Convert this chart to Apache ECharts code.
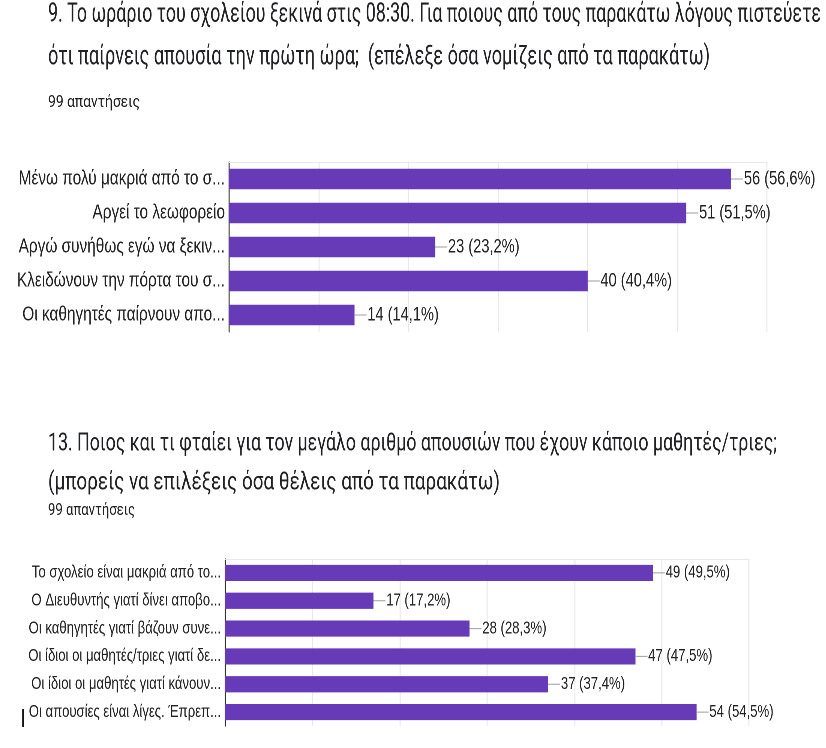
<!DOCTYPE html>
<html>
<head>
<meta charset="utf-8">
<script src="https://cdn.jsdelivr.net/npm/echarts@6/dist/echarts.min.js"></script>
<style>
html,body{margin:0;padding:0;background:#fff;overflow:hidden;width:826px;height:748px;}
#wrap{width:826px;height:748px;overflow:hidden;position:relative;}
#chart{width:1102px;height:748px;transform:scaleX(0.75);transform-origin:0 0;position:absolute;left:0;top:0;}
</style>
</head>
<body>
<div id="wrap"><div id="chart"></div></div>
<script>
// ---- Data ----
const title1Lines = [
  '9. Το ωράριο του σχολείου ξεκινά στις 08:30. Για ποιους από τους παρακάτω λόγους πιστεύετε',
  'ότι παίρνεις απουσία την πρώτη ώρα;  (επέλεξε όσα νομίζεις από τα παρακάτω)'
];
const subtitle1 = '99 απαντήσεις';
const categories1 = [
  'Μένω πολύ μακριά από το σ...',
  'Αργεί το λεωφορείο',
  'Αργώ συνήθως εγώ να ξεκιν...',
  'Κλειδώνουν την πόρτα του σ...',
  'Οι καθηγητές παίρνουν απο...'
];
const values1 = [56, 51, 23, 40, 14];
const percents1 = ['56,6%', '51,5%', '23,2%', '40,4%', '14,1%'];

const title2Lines = [
  '13. Ποιος και τι φταίει για τον μεγάλο αριθμό απουσιών που έχουν κάποιο μαθητές/τριες;',
  '(μπορείς να επιλέξεις όσα θέλεις από τα παρακάτω)'
];
const subtitle2 = '99 απαντήσεις';
const categories2 = [
  'Το σχολείο είναι μακριά από το...',
  'Ο Διευθυντής γιατί δίνει αποβο...',
  'Οι καθηγητές γιατί βάζουν συνε...',
  'Οι ίδιοι οι μαθητές/τριες γιατί δε...',
  'Οι ίδιοι οι μαθητές γιατί κάνουν...',
  'Οι απουσίες είναι λίγες. Έπρεπ...'
];
const values2 = [49, 17, 28, 47, 37, 54];
const percents2 = ['49,5%', '17,2%', '28,3%', '47,5%', '37,4%', '54,5%'];

const axisTicks = [0, 60, 10]; // min, max, interval

// ---- Styling ----
const S = 0.75; // horizontal condensing applied to the whole drawing (see CSS)
const PURPLE = '#673ab7';
const LABEL_FONT = "'Liberation Sans', Arial, sans-serif";
const TITLE_FONT = 'Roboto';
const X = v => v / S;   // page x -> drawing x

const mctx = document.createElement('canvas').getContext('2d');
function measure(text, size, family) {
  mctx.font = size + 'px ' + family;
  return mctx.measureText(text).width;
}
function titleText(text, x, y, size, targetWidth, color) {
  const w = measure(text, size, TITLE_FONT);
  return {
    type: 'text', x: X(x), y: y, scaleX: X(targetWidth) / w, silent: true,
    style: { text: text, fontSize: size, fontFamily: TITLE_FONT, fill: color || '#202124',
             align: 'left', verticalAlign: 'middle' }
  };
}

function valueLabel(values, percents, size) {
  return {
    show: true, position: 'right', distance: 0,
    formatter: p => '{l|}{t|' + values[p.dataIndex] + ' (' + percents[p.dataIndex] + ')}',
    rich: {
      l: { width: X(12), height: 1, backgroundColor: '#9e9e9e' },
      t: { fontSize: size, fontFamily: LABEL_FONT, color: '#222', padding: [0, 0, 0, 1] }
    }
  };
}

function xAxes(gridIndex) {
  return [
    { gridIndex, type: 'value', min: axisTicks[0], max: axisTicks[1], interval: axisTicks[2],
      axisLabel: { show: false }, axisTick: { show: false }, axisLine: { show: false },
      splitLine: { show: true, lineStyle: { color: '#e8e8e8', width: X(1) } } },
    { gridIndex, type: 'value', position: 'top', min: axisTicks[0], max: axisTicks[1], interval: axisTicks[2],
      axisLabel: { show: false }, axisTick: { show: false },
      axisLine: { show: true, lineStyle: { color: '#e8e8e8', width: 1 } },
      splitLine: { show: false } }
  ];
}
function yAxis(gridIndex, cats, size) {
  return { gridIndex, type: 'category', data: cats, inverse: true,
    axisLine: { show: true, lineStyle: { color: '#333', width: X(1) } },
    axisTick: { show: false },
    splitLine: { show: false },
    axisLabel: { fontSize: size, fontFamily: LABEL_FONT, color: '#222', margin: X(4) } };
}

const chart = echarts.init(document.getElementById('chart'), null, { devicePixelRatio: 2 });
chart.setOption({
  animation: false,
  backgroundColor: '#fff',
  grid: [
    { left: X(229), top: 162, width: X(538), height: 170, containLabel: false, outerBoundsMode: 'none' },
    { left: X(225), top: 559, width: X(524), height: 167, containLabel: false, outerBoundsMode: 'none' }
  ],
  xAxis: [...xAxes(0), ...xAxes(1)],
  yAxis: [yAxis(0, categories1, 20.5), yAxis(1, categories2, 17.5)],
  series: [
    { type: 'bar', xAxisIndex: 0, yAxisIndex: 0, data: values1, barCategoryGap: '40%',
      itemStyle: { color: PURPLE }, label: valueLabel(values1, percents1, 19.5) },
    { type: 'bar', xAxisIndex: 2, yAxisIndex: 1, data: values2, barCategoryGap: '42%',
      itemStyle: { color: PURPLE }, label: valueLabel(values2, percents2, 17.5) }
  ],
  graphic: [
    titleText(title1Lines[0], 48, 14.5, 27, 773),
    titleText(title1Lines[1], 48, 57, 27, 662),
    titleText(subtitle1, 48, 102.5, 17, 92, '#222'),
    titleText(title2Lines[0], 48, 444, 25, 729),
    titleText(title2Lines[1], 48, 483, 25, 452),
    titleText(subtitle2, 48, 510.5, 17, 87, '#222'),
    { type: 'line', silent: true, shape: { x1: X(23), y1: 709, x2: X(23), y2: 727 },
      style: { stroke: '#000', lineWidth: X(1.5) } }
  ]
});
</script>
</body>
</html>
